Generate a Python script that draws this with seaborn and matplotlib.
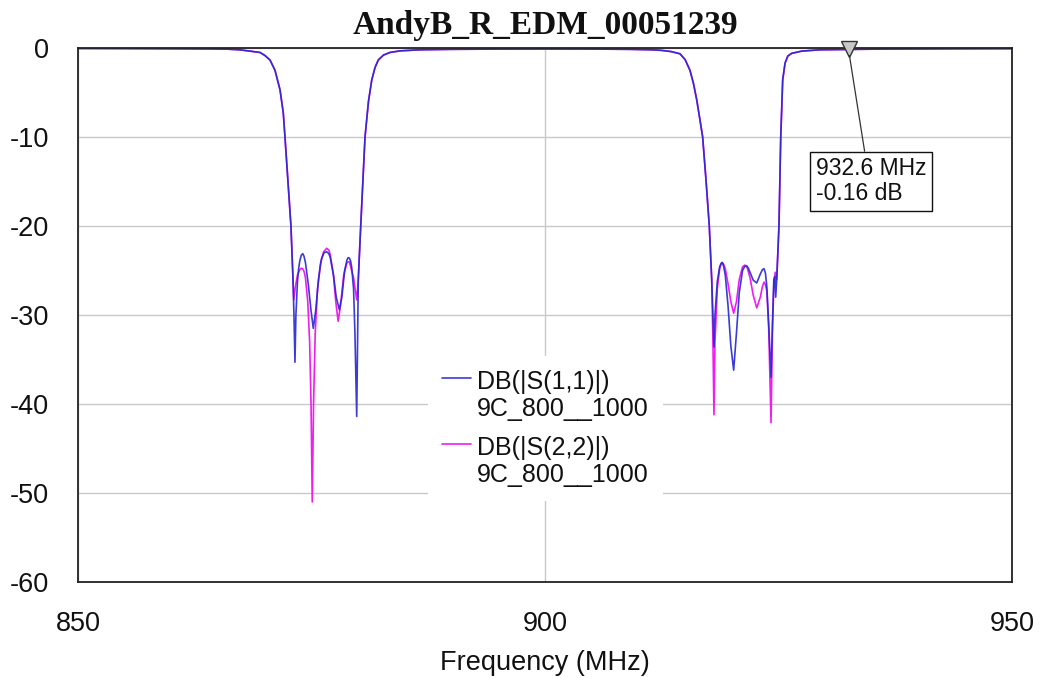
import numpy as np
import pandas as pd
import matplotlib
matplotlib.use("Agg")
import matplotlib.pyplot as plt
from matplotlib.legend_handler import HandlerLine2D
import seaborn as sns

# ---- data -------------------------------------------------------------
title = "AndyB_R_EDM_00051239"
label_s11 = "DB(|S(1,1)|)\n9C_800__1000"
label_s22 = "DB(|S(2,2)|)\n9C_800__1000"

# shared passband / skirt segments (MHz, dB)
lower_freq = [850, 855, 860, 864, 866, 867.3, 868.4, 869.49, 870.02, 870.56,
              871.09, 871.63, 871.98, 872.16, 872.48, 872.8]
lower_db = [-0.05, -0.06, -0.08, -0.1, -0.13, -0.2, -0.35, -0.5, -0.85, -1.35,
            -2.5, -4.7, -7.3, -10, -15, -20]

mid_freq = [880.01, 880.27, 880.5, 880.73, 881.1, 881.45, 881.8, 882.15, 882.7,
            883.4, 884.5, 886.6, 890, 895, 900, 905, 909, 911.5, 912.5, 913.5,
            914.45, 915.0, 915.52, 915.9, 916.24, 916.55, 916.88, 917.25, 917.59]
mid_db = [-26, -20, -15, -10, -6, -3.6, -2.2, -1.35, -0.8,
          -0.5, -0.32, -0.2, -0.15, -0.12, -0.11, -0.12, -0.15, -0.2, -0.27, -0.4,
          -0.65, -1.3, -2.5, -4, -5.8, -7.8, -10, -15, -20]

upper_freq = [924.81, 925.05, 925.24, 925.45, 925.7, 926.0, 926.41, 927.5,
              929.44, 932.6, 936, 940, 945, 950]
upper_db = [-26, -20, -10, -3.6, -1.7, -0.9, -0.6, -0.35,
            -0.2, -0.16, -0.12, -0.1, -0.08, -0.07]

# S(1,1) stopband ripple
s11_dip1_freq = [873.02, 873.12, 873.23, 873.33, 873.5, 873.62, 873.75, 873.9,
                 874.06, 874.2, 874.35, 874.65, 874.95, 875.19, 875.45, 875.75,
                 875.95, 876.1, 876.35, 876.63, 876.85, 877.0, 877.35, 877.65,
                 877.98, 878.25, 878.55, 878.8, 878.93, 879.05, 879.18, 879.3,
                 879.5, 879.65, 879.84]
s11_dip1_db = [-26, -30, -35.3, -30, -26.2, -24.8, -23.9, -23.3,
               -23.1, -23.4, -24.1, -26.5, -29.5, -31.5, -29.5, -26,
               -24.4, -23.6, -23.0, -22.9, -23.1, -23.5, -25.5, -28,
               -29.4, -28, -25, -23.8, -23.55, -23.6, -23.9, -24.6,
               -27, -32, -41.4]
s11_dip2_freq = [917.85, 917.98, 918.09, 918.2, 918.45, 918.7, 918.85, 918.98,
                 919.12, 919.3, 919.6, 919.9, 920.2, 920.5, 920.8, 921.15,
                 921.38, 921.6, 921.78, 921.95, 922.3, 922.67, 923.05, 923.28,
                 923.45, 923.6, 923.75, 923.95, 924.2, 924.35, 924.5, 924.6,
                 924.7]
s11_dip2_db = [-26, -30, -33.6, -30, -26.2, -24.6, -24.2, -24.1,
               -24.5, -25.5, -29, -33.5, -36.2, -32, -27.5, -25,
               -24.55, -24.5, -24.75, -25.2, -26.1, -26.4, -25.4, -24.9,
               -24.8, -25.3, -26.8, -31, -37, -31, -26, -25.7,
               -28]

# S(2,2) stopband ripple
s22_dip1_freq = [873.02, 873.1, 873.25, 873.5, 873.75, 873.9, 874.06, 874.2,
                 874.35, 874.6, 874.8, 874.95, 875.08, 875.22, 875.4, 875.65,
                 876.0, 876.3, 876.63, 876.85, 877.0, 877.35, 877.6, 877.85,
                 878.1, 878.45, 878.8, 879.05, 879.3, 879.5, 879.7, 879.84]
s22_dip1_db = [-26, -28.3, -27, -25.5, -24.9, -24.75, -24.8, -25.1,
               -25.8, -28.5, -33, -40, -51, -40, -32, -27,
               -24, -22.9, -22.5, -22.7, -23.2, -25.5, -28.5, -30.7,
               -29, -25.5, -24.1, -24, -25, -25.8, -27.3, -28.3]
s22_dip2_freq = [917.85, 917.98, 918.09, 918.2, 918.45, 918.7, 918.85, 918.98,
                 919.12, 919.3, 919.6, 919.9, 920.2, 920.5, 920.8, 921.15,
                 921.38, 921.6, 921.95, 922.3, 922.67, 923.05, 923.28, 923.45,
                 923.6, 923.75, 923.95, 924.2, 924.35, 924.5, 924.65]
s22_dip2_db = [-26, -33, -41.2, -33, -27, -24.8, -24.3, -24.1,
               -24.3, -24.8, -26.5, -28.5, -29.8, -28.5, -26, -24.6,
               -24.4, -24.5, -25.8, -27.8, -29.2, -28, -26.8, -26.3,
               -26.6, -27.3, -31.5, -42.1, -32, -26.5, -25.2]

marker_freq = 932.6
marker_db = -0.16

x_ticks = [850, 900, 950]
y_ticks = [0, -10, -20, -30, -40, -50, -60]

# ---- assemble traces --------------------------------------------------
def trace(d1f, d1d, d2f, d2d, name):
    f = lower_freq + d1f + mid_freq + d2f + upper_freq
    d = lower_db + d1d + mid_db + d2d + upper_db
    return pd.DataFrame({"freq": f, "db": d, "trace": name})

df = pd.concat([
    trace(s11_dip1_freq, s11_dip1_db, s11_dip2_freq, s11_dip2_db, label_s11),
    trace(s22_dip1_freq, s22_dip1_db, s22_dip2_freq, s22_dip2_db, label_s22),
], ignore_index=True)

# ---- style ------------------------------------------------------------
sns.set_theme(style="white")
plt.rcParams["font.family"] = ["Liberation Sans", "DejaVu Sans"]

blue = "#2626d4"
pink = "#f01cf0"
fs = 19.5
legend_fs = 18

fig = plt.figure(figsize=(10.4, 6.78), dpi=100)
ax = fig.add_axes([78 / 1040, 1 - 582 / 678, 934 / 1040, 534 / 678])

sns.lineplot(data=df[df.trace == label_s22], x="freq", y="db", color=pink,
             sort=False, estimator=None, linewidth=1.2, ax=ax, label=label_s22)
sns.lineplot(data=df[df.trace == label_s11], x="freq", y="db", color=blue,
             sort=False, estimator=None, linewidth=1.2, alpha=0.9, ax=ax,
             label=label_s11)

ax.set_xlim(850, 950)
ax.set_ylim(-60, 0)
ax.set_xticks(x_ticks)
ax.set_yticks(y_ticks)
ax.set_xticklabels([str(t) for t in x_ticks])
ax.set_yticklabels([str(t) for t in y_ticks])
ax.tick_params(axis="both", length=0, labelsize=fs, colors="#111111")
ax.tick_params(axis="x", pad=21)
ax.tick_params(axis="y", pad=21)
ax.grid(True, color="#c9c9c9", linewidth=1.0)
ax.set_axisbelow(True)
for s in ax.spines.values():
    s.set_color("#222222")
    s.set_linewidth(1.3)
    s.set_visible(True)

ax.set_xlabel("Frequency (MHz)", fontsize=fs, color="#111111", labelpad=9.5)
ax.set_ylabel("")
ax.set_title(title, fontsize=24, fontweight="bold", color="#111111",
             family=["Liberation Serif", "DejaVu Serif"], pad=10)

# marker readout
ax.plot([marker_freq], [marker_db], marker="v", markersize=11,
        markerfacecolor="#c8c8c8", markeredgecolor="#333333",
        markeredgewidth=1.0, linestyle="none", zorder=5, clip_on=False)
ax.annotate(f"{marker_freq} MHz\n{marker_db} dB", xy=(marker_freq, marker_db - 0.7),
            xytext=(929.0, -12.3), textcoords="data", ha="left", va="top",
            fontsize=16.5, color="#111111", linespacing=1.1,
            bbox=dict(boxstyle="square,pad=0.25", fc="white", ec="#111111", lw=1.0),
            arrowprops=dict(arrowstyle="-", color="#333333", lw=0.9,
                            shrinkA=0, shrinkB=0, relpos=(0.45, 1.0)),
            zorder=6)


class FirstLineHandler(HandlerLine2D):
    """Place the legend line beside the first line of a two-line label."""
    def create_artists(self, legend, orig_handle, xdescent, ydescent, width,
                       height, fontsize, trans):
        arts = super().create_artists(legend, orig_handle, xdescent, ydescent,
                                      width, height, fontsize, trans)
        for a in arts:
            a.set_ydata(np.asarray(a.get_ydata(), dtype=float) + fontsize * 0.72)
        return arts


handles = {l.get_label(): l for l in ax.get_lines()}
leg = ax.legend([handles[label_s11], handles[label_s22]], [label_s11, label_s22],
                loc="upper left", bbox_to_anchor=(0.375, 0.423),
                borderaxespad=0, fontsize=legend_fs, frameon=True, fancybox=False,
                facecolor="white", edgecolor="none", framealpha=1,
                handlelength=1.15, handletextpad=0.25, labelspacing=0.6,
                borderpad=0.55,
                handler_map={matplotlib.lines.Line2D: FirstLineHandler()})
for t in leg.get_texts():
    t.set_linespacing(1.17)
    t.set_color("#111111")

fig.savefig("out.png", dpi=100, facecolor="white")
